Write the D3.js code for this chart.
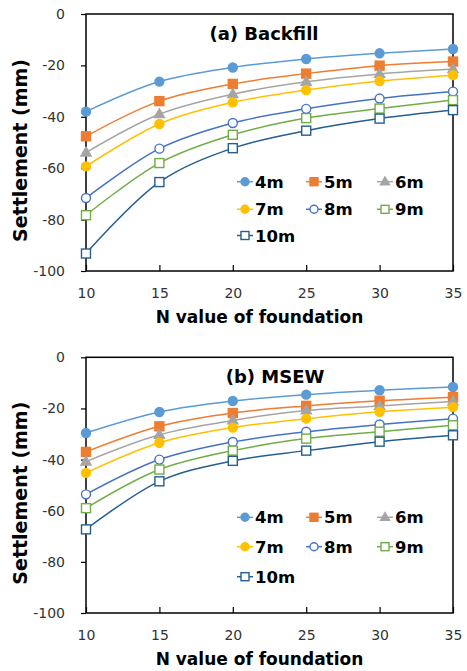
<!DOCTYPE html>
<html>
<head>
<meta charset="utf-8">
<script src="https://cdn.jsdelivr.net/npm/d3@7"></script>
<style>
  body { margin: 0; background: #fff; }
  svg { display: block; }
</style>
</head>
<body>
<script>
// N values of the foundation (x axis)
const nValues = [10, 15, 20, 25, 30, 35];
const wallHeights = ["4m", "5m", "6m", "7m", "8m", "9m", "10m"];
const yTicks = [0, -20, -40, -60, -80, -100];

// Settlement (mm), one row per wall height
const backfill = [
  [-38.0, -26.3, -20.8, -17.5, -15.3, -13.6],
  [-47.6, -33.9, -27.2, -23.2, -20.1, -18.5],
  [-53.9, -39.0, -31.2, -26.4, -23.3, -21.4],
  [-59.3, -42.8, -34.4, -29.6, -26.1, -23.8],
  [-71.6, -52.4, -42.4, -36.9, -32.9, -30.2],
  [-78.3, -58.0, -47.0, -40.5, -36.8, -33.5],
  [-93.2, -65.4, -52.2, -45.4, -40.7, -37.4]
];
const msew = [
  [-29.6, -21.4, -17.1, -14.6, -12.9, -11.6],
  [-37.0, -27.0, -21.8, -19.0, -17.0, -15.6],
  [-40.8, -30.3, -24.7, -20.8, -19.0, -17.3],
  [-45.2, -33.4, -27.5, -24.0, -21.3, -19.5],
  [-53.6, -40.0, -33.1, -29.1, -26.3, -24.0],
  [-59.0, -43.9, -36.5, -31.8, -29.1, -26.6],
  [-67.3, -48.5, -40.5, -36.5, -33.0, -30.5]
];

// marker style per wall height
const styles = [
  {color: "#5B9BD5", shape: "circle",   fill: true},
  {color: "#ED7D31", shape: "square",   fill: true},
  {color: "#A5A5A5", shape: "triangle", fill: true},
  {color: "#FFC000", shape: "circle",   fill: true},
  {color: "#4472C4", shape: "circle",   fill: false},
  {color: "#70AD47", shape: "square",   fill: false},
  {color: "#255E91", shape: "square",   fill: false}
];

const W = 467, H = 671;
const font = "Verdana, 'DejaVu Sans', sans-serif";

const svg = d3.select("body").append("svg")
  .attr("width", W).attr("height", H);

function drawMarker(g, s, x, y, size) {
  let m;
  if (s.shape === "circle") {
    m = g.append("circle").attr("cx", x).attr("cy", y).attr("r", size / 2);
  } else if (s.shape === "square") {
    m = g.append("rect").attr("x", x - size / 2).attr("y", y - size / 2)
      .attr("width", size).attr("height", size);
  } else {
    const sym = d3.symbol().type(d3.symbolTriangle).size(size * size * 0.55);
    m = g.append("path").attr("d", sym()).attr("transform", "translate(" + x + "," + (y + 0.5) + ")");
  }
  m.attr("fill", s.fill ? s.color : "#fff")
    .attr("stroke", s.color)
    .attr("stroke-width", 1.4);
}

function panel(top, bottom, title, titleX, series, legendRows) {
  const x = d3.scaleLinear().domain([10, 35]).range([86, 453]);
  const y = d3.scaleLinear().domain([0, -100]).range([top, bottom]);
  const g = svg.append("g");

  // plot frame
  g.append("rect")
    .attr("x", x(10)).attr("y", y(0))
    .attr("width", x(35) - x(10)).attr("height", y(-100) - y(0))
    .attr("fill", "none").attr("stroke", "#000").attr("stroke-width", 1.5);

  // y axis ticks (outside)
  const yAxis = g.append("g").attr("transform", "translate(" + x(10) + ",0)")
    .call(d3.axisLeft(y).tickValues(yTicks).tickSize(5).tickPadding(16).tickFormat(d3.format("d")));
  yAxis.select(".domain").remove();
  yAxis.selectAll("line").attr("stroke", "#000").attr("stroke-width", 1.2);
  yAxis.selectAll("text").attr("font-family", font).attr("font-size", 14).attr("fill", "#333")
    .text(d => String(d).replace("−", "-"));

  // x axis ticks (inside)
  const xAxis = g.append("g").attr("transform", "translate(0," + y(-100) + ")")
    .call(d3.axisBottom(x).tickValues(nValues).tickSize(-6).tickPadding(17));
  xAxis.select(".domain").remove();
  xAxis.selectAll("line").attr("stroke", "#000").attr("stroke-width", 1.2);
  xAxis.selectAll("text").attr("font-family", font).attr("font-size", 14).attr("fill", "#333");

  // axis titles
  g.append("text")
    .attr("transform", "translate(27," + ((top + bottom) / 2 + 8) + ") rotate(-90)")
    .attr("text-anchor", "middle")
    .attr("font-family", font).attr("font-weight", "bold").attr("font-size", 19)
    .text("Settlement (mm)");
  g.append("text")
    .attr("x", (x(10) + x(35)) / 2 - 10).attr("y", bottom + 52)
    .attr("text-anchor", "middle")
    .attr("font-family", font).attr("font-weight", "bold").attr("font-size", 17)
    .text("N value of foundation");

  // panel title
  g.append("text")
    .attr("x", titleX).attr("y", top + 26)
    .attr("text-anchor", "middle")
    .attr("font-family", font).attr("font-weight", "bold").attr("font-size", 18)
    .text(title);

  // series
  const line = d3.line()
    .x((d, i) => x(nValues[i]))
    .y(d => y(d))
    .curve(d3.curveCatmullRom.alpha(0.5));

  series.forEach((vals, k) => {
    const s = styles[k];
    g.append("path")
      .attr("d", line(vals))
      .attr("fill", "none")
      .attr("stroke", s.color)
      .attr("stroke-width", 1.5);
    vals.forEach((v, i) => drawMarker(g, s, x(nValues[i]), y(v), 9));
  });

  // legend
  const colX = [237, 306, 377];
  wallHeights.forEach((name, k) => {
    const s = styles[k];
    const lx = colX[k % 3];
    const ly = legendRows[Math.floor(k / 3)];
    g.append("line")
      .attr("x1", lx).attr("x2", lx + 16)
      .attr("y1", ly).attr("y2", ly)
      .attr("stroke", s.color).attr("stroke-width", 1.5);
    drawMarker(g, s, lx + 8, ly, 8);
    g.append("text")
      .attr("x", lx + 18).attr("y", ly + 6)
      .attr("font-family", font).attr("font-weight", "bold").attr("font-size", 16.5)
      .attr("fill", "#000")
      .text(name);
  });
}

panel(14, 271, "(a) Backfill", 264, backfill, [181.7, 209.3, 235.5]);
panel(357.3, 613, "(b) MSEW", 275, msew, [517.3, 546.7, 576.7]);
</script>
</body>
</html>
